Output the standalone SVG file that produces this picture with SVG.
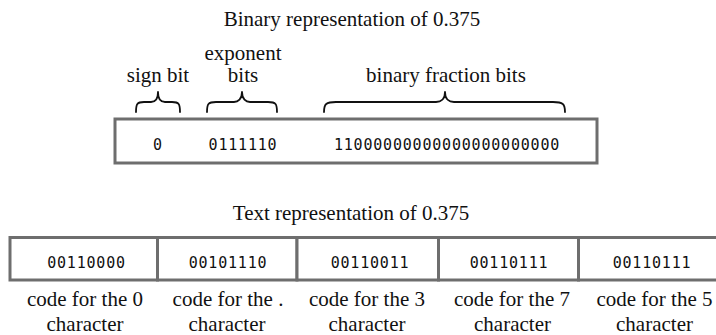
<svg xmlns="http://www.w3.org/2000/svg" width="716" height="335" viewBox="0 0 716 335">
  <style>
    .serif { font-family: "Liberation Serif", "Times New Roman", serif; font-size: 21px; fill: #111; text-anchor: middle; }
    .mono { font-family: "DejaVu Sans Mono", "Liberation Mono", monospace; font-size: 15px; letter-spacing: 0.8px; fill: #111; text-anchor: middle; }
    .box { fill: #fff; stroke: #6e6e6e; stroke-width: 3; }
    .brace { fill: none; stroke: #111; stroke-width: 1.8; stroke-linecap: round; stroke-linejoin: round; }
  </style>
  <rect width="716" height="335" fill="#fff"/>

  <g id="title-binary">
    <text class="serif" x="352" y="26">Binary representation of 0.375</text>
  </g>

  <g id="label-sign">
    <text class="serif" x="158" y="82">sign bit</text>
  </g>
  <g id="label-exponent">
    <text class="serif" x="243" y="60">exponent</text>
    <text class="serif" x="243" y="82">bits</text>
  </g>
  <g id="label-fraction">
    <text class="serif" x="446" y="82">binary fraction bits</text>
  </g>

  <g id="braces">
    <path class="brace" d="M136,112 C136,104 137,102 144,102 L151,102 C155,102 158,99 158,92 C158,99 161,102 165,102 L172,102 C179,102 180,104 180,112"/>
    <path class="brace" d="M207,112 C207,104 208,102 216,102 L234,102 C238,102 242,99 242,92 C242,99 246,102 250,102 L268,102 C276,102 277,104 277,112"/>
    <path class="brace" d="M324,112 C324,104 326,102 336,102 L436,102 C441,102 445,99 445,92 C445,99 449,102 454,102 L553,102 C563,102 565,104 565,112"/>
  </g>

  <g id="binary-box">
    <rect class="box" x="115" y="119" width="482" height="44"/>
    <text class="mono" x="158" y="150">0</text>
    <text class="mono" x="243" y="150">0111110</text>
    <text class="mono" x="447" y="150">11000000000000000000000</text>
  </g>

  <g id="title-text">
    <text class="serif" x="351" y="220">Text representation of 0.375</text>
  </g>

  <g id="cell-0">
    <rect class="box" x="10" y="237.5" width="147.5" height="42.5"/>
    <text class="mono" x="86.5" y="268">00110000</text>
    <text class="serif" x="85" y="306">code for the 0</text>
    <text class="serif" x="85" y="331">character</text>
  </g>
  <g id="cell-dot">
    <rect class="box" x="157.5" y="237.5" width="139.5" height="42.5"/>
    <text class="mono" x="228" y="268">00101110</text>
    <text class="serif" x="228" y="306">code for the .</text>
    <text class="serif" x="227" y="331">character</text>
  </g>
  <g id="cell-3">
    <rect class="box" x="297" y="237.5" width="141.5" height="42.5"/>
    <text class="mono" x="370" y="268">00110011</text>
    <text class="serif" x="367" y="306">code for the 3</text>
    <text class="serif" x="367" y="331">character</text>
  </g>
  <g id="cell-7">
    <rect class="box" x="438.5" y="237.5" width="140" height="42.5"/>
    <text class="mono" x="509" y="268">00110111</text>
    <text class="serif" x="512" y="306">code for the 7</text>
    <text class="serif" x="512.5" y="331">character</text>
  </g>
  <g id="cell-5">
    <rect class="box" x="578.5" y="237.5" width="145" height="42.5"/>
    <text class="mono" x="652" y="268">00110111</text>
    <text class="serif" x="654.5" y="306">code for the 5</text>
    <text class="serif" x="654.5" y="331">character</text>
  </g>
</svg>
